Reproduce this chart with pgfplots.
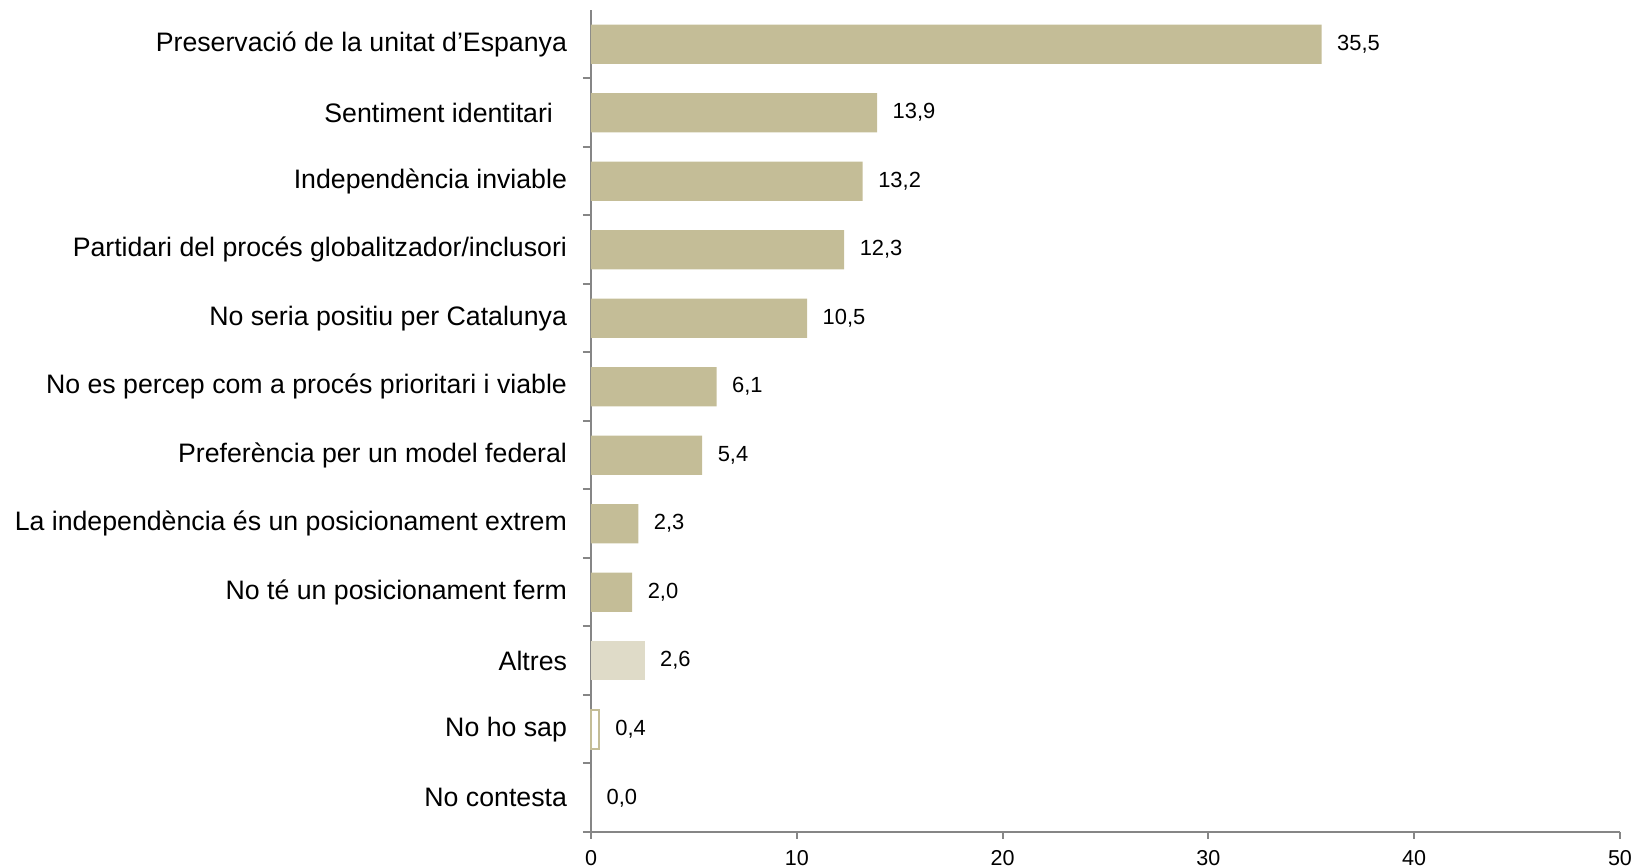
\documentclass[border=0pt]{standalone}
\usepackage{pgfplots}
\pgfplotsset{compat=1.18}
\usepackage{fontspec}
\setmainfont{Liberation Sans}
\definecolor{bartan}{HTML}{C4BD97}
\definecolor{barlight}{HTML}{DFDBC8}
\definecolor{axgray}{HTML}{868686}
\begin{document}
\begin{tikzpicture}
\begin{axis}[
  scale only axis, width=514.5bp, height=411bp,
  xmin=0, xmax=50, ymin=-0.5, ymax=11.5,
  axis lines*=left,
  axis line style={axgray, line width=1bp},
  every tick/.style={axgray, line width=1bp},
  tick align=outside,
  xtick={0,10,...,50},
  ytick={0,...,11},
  yticklabels={No contesta, No ho sap, Altres, No té un posicionament ferm, La independència és un posicionament extrem, Preferència per un model federal, No es percep com a procés prioritari i viable, No seria positiu per Catalunya, Partidari del procés globalitzador/inclusori, Independència inviable, Sentiment identitari\hspace*{7bp}, Preservació de la unitat d’Espanya},
  major y tick style={draw=none},
  minor ytick={-0.5,0.5,...,10.5},
  major tick length=3.5bp,
  minor tick length=4bp,
  yticklabel style={font=\fontsize{13.4}{15}\selectfont, text=black, xshift=-5bp},
  xticklabel style={font=\fontsize{10.8}{12}\selectfont, text=black, yshift=-2.2bp},
  /pgf/number format/assume math mode=true,
  xbar, bar shift=0pt, bar width=0.57,
  point meta=x,
  nodes near coords={\pgfmathprintnumber[fixed,fixed zerofill,precision=1,use comma,assume math mode=true]{\pgfplotspointmeta}},
  nodes near coords style={font=\fontsize{11}{12}\selectfont, text=black, anchor=west, xshift=4.3bp},
  clip=false,
]
\addplot[fill=bartan, draw=none] coordinates {
 (35.5,11) (13.9,10) (13.2,9) (12.3,8) (10.5,7) (6.1,6) (5.4,5) (2.3,4) (2.0,3) (0.0,0)};
\addplot[fill=barlight, draw=none] coordinates {(2.6,2)};
\addplot[fill=white, draw=bartan, line width=1bp] coordinates {(0.4,1)};
\coordinate (sw) at (rel axis cs:0,0);
\coordinate (ne) at (rel axis cs:1,1);
\end{axis}
\pgfresetboundingbox
\path[use as bounding box] ([xshift=-295.5bp,yshift=-17.5bp]sw) rectangle ([xshift=10bp,yshift=5bp]ne);
\end{tikzpicture}
\end{document}
